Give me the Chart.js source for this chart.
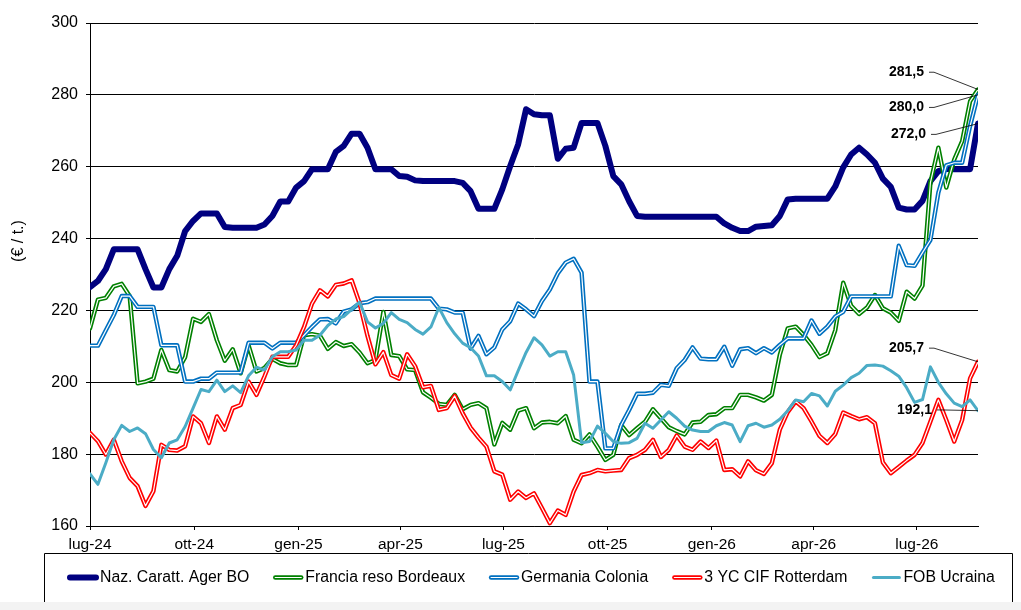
<!DOCTYPE html>
<html>
<head>
<meta charset="utf-8">
<script src="https://cdn.jsdelivr.net/npm/chart.js@4.4.1/dist/chart.umd.min.js"></script>
<style>
  html, body { margin: 0; padding: 0; background: #fff; }
  #wrap { width: 1021px; height: 610px; position: relative; }
</style>
</head>
<body>
<div id="wrap"><canvas id="chart" width="1021" height="610"></canvas></div>
<script>
// weekly prices (EUR/t), first week = 1 Jul 2024
const naz = [
  226.5, 228.2, 231.5, 237, 237, 237, 237, 231.5, 226.4, 226.4,
  231.5, 235.2, 242.1, 244.9, 247, 247, 247, 243.2, 243, 243,
  243, 243, 243.9, 246.3, 250.3, 250.3, 254.2, 256, 259.3, 259.3,
  259.3, 264.1, 265.8, 269.2, 269.2, 265.3, 259.3, 259.3, 259.3, 257.4,
  257.2, 256.2, 256, 256, 256, 256, 256, 255.5, 253.2, 248.3,
  248.3, 248.3, 253.7, 260.2, 266.2, 276, 274.6, 274.3, 274.3, 262.2,
  265, 265.3, 272.2, 272.2, 272.2, 265.8, 257.4, 255.1, 250.4, 246.3,
  246.1, 246.1, 246.1, 246.1, 246.1, 246.1, 246.1, 246.1, 246.1, 246.1,
  244.2, 243, 242.1, 242.1, 243.3, 243.5, 243.7, 246.3, 250.9, 251.1,
  251.1, 251.1, 251.1, 251.1, 254.5, 259.8, 263.4, 265.3, 263.4, 261.1,
  256.7, 254.4, 248.6, 248.1, 248.1, 250.5, 256, 258.8, 259.4, 259.3,
  259.3, 259.3, 272
];
const francia = [
  215, 223, 223.5, 226.7, 227.4, 224, 199.7, 200.2, 201, 209,
  203.4, 203, 207, 217.7, 216.8, 219, 211.7, 206, 209.2, 202.5,
  210.3, 203, 204, 206.5, 205.3, 204.8, 204.8, 213.1, 213.4, 213,
  209.3, 211.2, 210.1, 210.6, 208.3, 205.3, 206.2, 219.6, 207.6, 207.3,
  203.6, 203.4, 197.2, 195.7, 194, 193.7, 196.5, 192.5, 193.7, 194.2,
  192.8, 182.7, 188.7, 186.8, 192.1, 192.8, 187.2, 188.8, 189, 188.6,
  190.6, 184, 183, 185.5, 182.1, 178.4, 179.8, 188.1, 185.3, 187.2,
  189, 192.5, 190, 187.5, 186.4, 185.5, 188.8, 189, 190.9, 191.1,
  192.8, 192.8, 196.5, 196.5, 195.8, 194.9, 196.5, 207.6, 215, 215.5,
  213.2, 210.4, 207, 208.1, 214.5, 227.7, 221.3, 219, 220.8, 224.3,
  220.6, 219.4, 217.1, 225.2, 223.3, 226.9, 255.6, 265.3, 254.2, 262,
  267.1, 278.2, 281.5
];
const germania = [
  210.2, 210.2, 214.5, 218.7, 224, 224, 221, 221, 221, 210.3,
  210.3, 210.3, 200.2, 200.2, 201, 201, 202.7, 202.7, 202.7, 202.7,
  211, 211, 211, 209.4, 211, 211, 211, 213.1, 215.4, 217.5,
  217.6, 216.4, 219.7, 220.3, 222, 222.3, 223.3, 223.3, 223.3, 223.3,
  223.3, 223.3, 223.3, 223.3, 220.5, 220.3, 219.4, 219.4, 209.4, 212.9,
  207.8, 209.7, 214.7, 217, 221.9, 220.3, 218.4, 222.6, 225.8, 230.3,
  233.3, 234.4, 230.5, 200.2, 200.2, 181.6, 181.6, 188.1, 192.3, 196.8,
  196.8, 197.1, 199.3, 199, 203.9, 206.2, 209.7, 206.6, 206.4, 206.4,
  209.9, 204.6, 209.2, 209.5, 208.1, 209.5, 208.3, 210.4, 212.2, 212.2,
  212.2, 217.2, 213.5, 215.5, 218.3, 219.6, 223.9, 223.9, 223.9, 223.9,
  223.9, 223.9, 238, 232.6, 232.4, 236.1, 239.6, 252.8, 260.4, 261.1,
  261.1, 271.3, 280
];
const rotterdam = [
  185.9, 183.6, 179.9, 184, 178, 173.4, 171.1, 165.6, 169.7, 182.6,
  181.2, 181, 182.2, 190.5, 188.6, 183.1, 190.5, 186.8, 192.8, 193.7,
  200.2, 196.5, 201.6, 207.1, 207.1, 207.1, 210.3, 215.4, 221.9, 225.6,
  223.9, 227.1, 227.5, 228.4, 222, 212.9, 205, 208.4, 202, 201,
  207.8, 204.5, 198.6, 199, 192.3, 192.8, 196.2, 191.4, 187.4, 184.6,
  182.1, 175.2, 174.3, 167.3, 169.6, 167.8, 169.1, 165, 160.8, 164.3,
  163.1, 169.6, 174.2, 174.7, 175.6, 175.2, 175.4, 175.6, 178.9, 179.8,
  181.2, 184, 179.2, 181.2, 185.2, 182.1, 181.2, 183.5, 181.7, 183.8,
  175.6, 175.8, 173.8, 178, 175.5, 174.5, 177.5, 186.8, 191.7, 194.7,
  192.8, 189.1, 185.1, 183.1, 185.6, 191.6, 190.6, 189.7, 190.3, 188.6,
  177.7, 174.7, 176.4, 178.2, 179.8, 183.1, 189.1, 195.1, 189.5, 183.5,
  189.5, 201.1, 205.7
];
const ucraina = [
  174.5, 171.6, 177.6, 184, 188, 186.3, 187.3, 185.7, 181.3, 179,
  183.1, 184, 187.7, 192.8, 198, 197.4, 200.6, 197.4, 199, 197.1,
  201.8, 204.2, 203.4, 207.1, 208.5, 208.5, 209, 211.7, 211.7, 213.1,
  215.8, 217.6, 218.3, 220.3, 222.3, 216.8, 215.1, 216.4, 219.4, 217.5,
  216.6, 214.7, 213.4, 215.4, 220.8, 216.6, 213.5, 210.9, 209.6, 207.3,
  201.8, 201.8, 200.2, 197.9, 203.2, 208.3, 212.4, 210.4, 207.3, 208.5,
  208.5, 202, 183.2, 183.5, 187.8, 185.8, 183.5, 183, 183.2, 184.4,
  188.6, 187.2, 189.5, 191.8, 190, 187.8, 186.7, 186.3, 186.3, 187.9,
  188.8, 188.1, 183.5, 187.9, 188.6, 187.5, 188.1, 189.7, 192.1, 195.1,
  194.6, 196.9, 196.2, 193.4, 197.5, 199.2, 201.3, 202.5, 204.7, 204.8,
  204.5, 203.2, 201.7, 198.5, 194.4, 195.2, 204.3, 200, 196.8, 194.2,
  193.2, 195.1, 192.1
];

// x axis: days since 1 Jul 2024, labels at quarter starts
const tickDays = [0, 92, 184, 274, 365, 457, 549, 639, 730];
const tickLabels = ['lug-24', 'ott-24', 'gen-25', 'apr-25', 'lug-25', 'ott-25', 'gen-26', 'apr-26', 'lug-26'];
const seriesNames = ['Naz. Caratt. Ager BO', 'Francia reso Bordeaux', 'Germania Colonia', '3 YC CIF Rotterdam', 'FOB Ucraina'];

const FONT = '"Liberation Sans", Arial, sans-serif';

function toPoints(values) {
  return values.map((v, i) => ({ x: i * 7, y: v }));
}

// one entry per legend item; "double" = Excel compound line (colour with white core)
const styles = [
  { color: '#000080', width: 6, double: false },
  { color: '#008000', width: 4.4, double: true },
  { color: '#0070C0', width: 4.4, double: true },
  { color: '#FF0000', width: 4.4, double: true },
  { color: '#4BACC6', width: 3, double: false }
];
const allValues = [naz, francia, germania, rotterdam, ucraina];

const datasets = [];
allValues.forEach((vals, k) => {
  const st = styles[k];
  const baseOrder = 20 - k * 3; // later series drawn on top, like Excel
  datasets.push({
    label: seriesNames[k],
    data: toPoints(vals),
    borderColor: st.color,
    borderWidth: st.width,
    pointRadius: 0,
    tension: 0,
    borderJoinStyle: 'round',
    borderCapStyle: 'round',
    order: baseOrder
  });
  if (st.double) {
    datasets.push({
      label: seriesNames[k] + ' core',
      data: toPoints(vals),
      borderColor: '#ffffff',
      borderWidth: 1.2,
      pointRadius: 0,
      tension: 0,
      borderJoinStyle: 'round',
      order: baseOrder - 1
    });
  }
});

// end-of-series value labels: series index, text centre (in y units), right edge offset
const endLabels = [
  { series: 1, at: 286.3, dx: -54 },
  { series: 2, at: 276.5, dx: -54 },
  { series: 0, at: 269.0, dx: -52 },
  { series: 3, at: 209.5, dx: -54 },
  { series: 4, at: 192.3, dx: -46 }
];

const extras = {
  id: 'extras',
  afterDatasetsDraw(chart) {
    const ctx = chart.ctx;
    const area = chart.chartArea;
    const yS = chart.scales.y;
    ctx.save();
    // end labels with leader lines
    ctx.font = 'bold 14px ' + FONT;
    ctx.textAlign = 'right';
    ctx.textBaseline = 'middle';
    endLabels.forEach(l => {
      const name = seriesNames[l.series];
      const idx = chart.data.datasets.findIndex(d => d.label === name);
      const meta = chart.getDatasetMeta(idx);
      const last = meta.data[meta.data.length - 1];
      const vals = allValues[l.series];
      const txt = vals[vals.length - 1].toFixed(1).replace('.', ',');
      const tx = area.right + l.dx;
      const ty = yS.getPixelForValue(l.at);
      ctx.fillStyle = '#000';
      ctx.fillText(txt, tx, ty);
      ctx.strokeStyle = '#000';
      ctx.lineWidth = 0.8;
      ctx.beginPath();
      ctx.moveTo(tx + 5, ty);
      ctx.lineTo(tx + 10, ty);
      ctx.lineTo(last.x, last.y);
      ctx.stroke();
    });
    ctx.restore();
  },
  afterDraw(chart) {
    const ctx = chart.ctx;
    ctx.save();
    // y axis title
    ctx.fillStyle = '#000';
    ctx.font = '16px ' + FONT;
    ctx.textAlign = 'center';
    ctx.textBaseline = 'middle';
    ctx.translate(19, 241);
    ctx.rotate(-Math.PI / 2);
    ctx.fillText('(\u20ac / t.)', 0, 0);
    ctx.restore();

    // legend box
    ctx.save();
    ctx.fillStyle = '#f3f3f3';
    ctx.fillRect(0, 602, 1021, 8);
    ctx.strokeStyle = '#000';
    ctx.lineWidth = 1;
    ctx.beginPath();
    ctx.moveTo(44.5, 602);
    ctx.lineTo(44.5, 553.5);
    ctx.lineTo(1012.5, 553.5);
    ctx.lineTo(1012.5, 602);
    ctx.stroke();

    const ly = 577.5;
    let lx = 68;
    ctx.font = '15.8px ' + FONT;
    ctx.textAlign = 'left';
    ctx.textBaseline = 'middle';
    seriesNames.forEach((name, k) => {
      const st = styles[k];
      ctx.lineCap = 'round';
      ctx.strokeStyle = st.color;
      ctx.lineWidth = st.width;
      ctx.beginPath();
      ctx.moveTo(lx + 2, ly);
      ctx.lineTo(lx + 28, ly);
      ctx.stroke();
      if (st.double) {
        ctx.strokeStyle = '#fff';
        ctx.lineWidth = 1.2;
        ctx.beginPath();
        ctx.moveTo(lx + 2, ly);
        ctx.lineTo(lx + 28, ly);
        ctx.stroke();
      }
      ctx.fillStyle = '#000';
      ctx.fillText(name, lx + 32, ly);
      lx += 32 + ctx.measureText(name).width + 24;
    });
    ctx.restore();
  }
};

const ctx = document.getElementById('chart').getContext('2d');
new Chart(ctx, {
  type: 'line',
  data: { datasets: datasets },
  options: {
    responsive: false,
    animation: false,
    events: [],
    layout: { padding: { top: 23, right: 43, bottom: 54, left: 0 } },
    plugins: {
      legend: { display: false },
      tooltip: { enabled: false }
    },
    scales: {
      x: {
        type: 'linear',
        min: 0,
        max: 784,
        afterBuildTicks: scale => { scale.ticks = tickDays.map(v => ({ value: v })); },
        afterFit: scale => { scale.height = 30; },
        ticks: {
          autoSkip: false,
          maxRotation: 0,
          padding: 5,
          color: '#000',
          font: { family: FONT, size: 15.5 },
          callback: value => tickLabels[tickDays.indexOf(value)]
        },
        grid: { drawOnChartArea: false, drawTicks: true, tickLength: 4, color: '#000' },
        border: { color: '#000', width: 1 }
      },
      y: {
        min: 160,
        max: 300,
        afterFit: scale => { scale.width = 90; },
        ticks: {
          stepSize: 20,
          padding: 8,
          color: '#000',
          font: { family: FONT, size: 16 }
        },
        grid: { color: '#000', lineWidth: 1, tickLength: 4 },
        border: { color: '#000', width: 1 }
      }
    }
  },
  plugins: [extras]
});
</script>
</body>
</html>
